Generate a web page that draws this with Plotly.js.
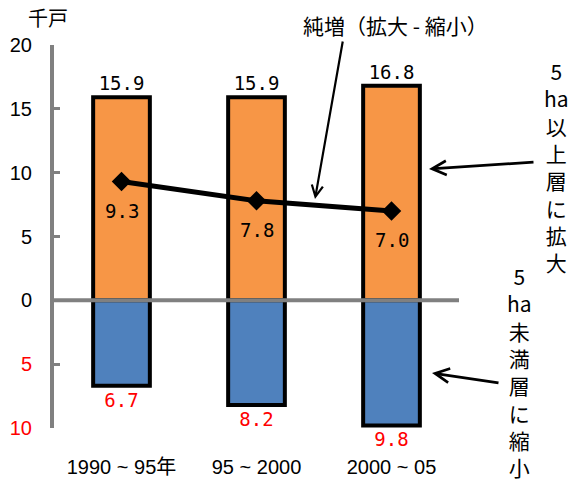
<!DOCTYPE html>
<html>
<head>
<meta charset="utf-8">
<script src="https://cdn.plot.ly/plotly-3.0.1.min.js"></script>
<style>html,body{margin:0;padding:0;background:#fff;}#chart{width:568px;height:487px;}</style>
</head>
<body>
<div id="chart"></div>
<script>
// ---- data ----
const periods = ['1990 ~ 95年', '95 ~ 2000', '2000 ~ 05'];
const expand = [15.9, 15.9, 16.8];      // 5ha以上層に拡大
const shrink = [-6.7, -8.2, -9.8];      // 5ha未満層に縮小
const net = [9.3, 7.8, 7.0];            // 純増（拡大 - 縮小）
const yTickVals = [-10, -5, 0, 5, 10, 15, 20];
const yTickText = ['<span style="color:#ff0000">10</span>', '<span style="color:#ff0000">5</span>', '0', '5', '10', '15', '20'];

// ---- layout helpers ----
const W = 568, H = 487;
const M = {l: 54, r: 109, t: 45, b: 59};
const PW = W - M.l - M.r, PH = H - M.t - M.b;
const px = x => (x - M.l) / PW;
const py = y => (H - M.b - y) / PH;

const MONO = 'DejaVu Sans Mono, Liberation Mono, monospace';
const SANS = 'Liberation Sans, Arial, Noto Sans CJK JP, sans-serif';
const JP = 'Noto Sans CJK JP, sans-serif';

const traces = [
  {
    type: 'bar', x: periods, y: expand, width: 0.42,
    marker: {color: '#F79646', line: {color: '#000', width: 4}},
    text: expand.map(v => v.toFixed(1)), textposition: 'outside',
    textfont: {family: MONO, size: 19, color: '#000'},
    cliponaxis: false, hoverinfo: 'skip'
  },
  {
    type: 'bar', x: periods, y: shrink, width: 0.42,
    marker: {color: '#4F81BD', line: {color: '#000', width: 4}},
    text: shrink.map(v => Math.abs(v).toFixed(1)), textposition: 'outside',
    textfont: {family: MONO, size: 19, color: '#ff0000'},
    cliponaxis: false, hoverinfo: 'skip'
  },
  {
    type: 'scatter', mode: 'lines+markers', x: periods, y: net,
    line: {color: '#000', width: 5},
    marker: {symbol: 'diamond', size: 15, color: '#000'},
    cliponaxis: false, hoverinfo: 'skip'
  }
];

const annotations = [];
// net value labels under each point
net.forEach((v, i) => annotations.push({
  x: periods[i], y: v, xref: 'x', yref: 'y', text: v.toFixed(1), showarrow: false,
  xanchor: 'center', yanchor: 'middle',
  yshift: -29, font: {family: MONO, size: 19, color: '#000'}
}));
const paperNote = (x, y, text, size, extra) => Object.assign({
  x: px(x), y: py(y), xref: 'paper', yref: 'paper', text: text, showarrow: false,
  xanchor: 'center', yanchor: 'middle', font: {family: JP, size: size, color: '#000'}
}, extra || {});
// unit
annotations.push(paperNote(48, 18, '千戸', 20));
// net caption + arrow
annotations.push(paperNote(395, 25, '純増（拡大 - 縮小）', 21));
annotations.push({x: px(315), y: py(199), xref: 'paper', yref: 'paper', text: '', showarrow: true,
  ax: 28, ay: -159, arrowhead: 5, arrowwidth: 2.2, arrowsize: 1, arrowcolor: '#000'});
// right labels
annotations.push(paperNote(556, 68, ['5', 'ha', '以', '上', '層', 'に', '拡', '大'].join('<br>'), 21,
  {yanchor: 'top', yshift: 14}));
annotations.push({x: px(429), y: py(169), xref: 'paper', yref: 'paper', text: '', showarrow: true,
  ax: 106, ay: -7, arrowhead: 5, arrowwidth: 2.8, arrowsize: 1, arrowcolor: '#000'});
annotations.push(paperNote(519, 273, ['5', 'ha', '未', '満', '層', 'に', '縮', '小'].join('<br>'), 21,
  {yanchor: 'top', yshift: 14}));
annotations.push({x: px(432), y: py(373), xref: 'paper', yref: 'paper', text: '', showarrow: true,
  ax: 68, ay: 10, arrowhead: 5, arrowwidth: 2.8, arrowsize: 1, arrowcolor: '#000'});

const layout = {
  width: W, height: H, margin: M,
  paper_bgcolor: '#fff', plot_bgcolor: '#fff',
  showlegend: false, barmode: 'relative',
  font: {family: SANS, color: '#000'},
  xaxis: {
    type: 'category', range: [-0.5, 2.5], showline: false, ticks: '', showgrid: false, zeroline: false,
    tickfont: {family: SANS, size: 20, color: '#000'}, ticklabelstandoff: 25, fixedrange: true
  },
  yaxis: {
    range: [-10, 20], tickvals: yTickVals, ticktext: yTickText,
    showline: true, linecolor: '#808080', linewidth: 4,
    ticks: 'inside', ticklen: 6, tickwidth: 3, tickcolor: '#808080',
    showgrid: false, zeroline: false,
    tickfont: {family: SANS, size: 20, color: '#000'}, ticklabelstandoff: 14, fixedrange: true
  },
  shapes: [{type: 'line', xref: 'paper', yref: 'y', x0: 0, x1: 1, y0: 0, y1: 0,
    line: {color: '#808080', width: 4}, layer: 'above'}],
  annotations: annotations
};

Plotly.newPlot('chart', traces, layout, {staticPlot: true});
</script>
</body>
</html>
